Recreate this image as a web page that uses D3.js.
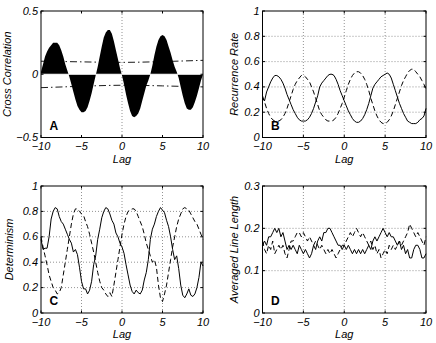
<!DOCTYPE html>
<html>
<head>
<meta charset="utf-8">
<script src="https://cdn.jsdelivr.net/npm/d3@7"></script>
<style>
  body { margin: 0; background: #fff; }
  text { font-family: "Liberation Sans", Arial, sans-serif; }
</style>
</head>
<body>
<script>
// lags run from -10 to 10 in steps of 0.25
var lags = d3.range(-10, 10.001, 0.25);
var xTicks = [-10, -5, 0, 5, 10];

// A: cross correlation
var crossCorr = [0.02,0.08,0.14,0.18,0.21,0.23,0.25,0.25,0.25,0.23,0.19,0.14,0.08,0.03,-0.02,
  -0.08,-0.14,-0.20,-0.25,-0.28,-0.30,-0.30,-0.29,-0.26,-0.21,-0.15,-0.08,-0.01,
  0.06,0.14,0.22,0.29,0.33,0.35,0.35,0.32,0.26,0.19,0.12,0.05,-0.01,
  -0.08,-0.16,-0.23,-0.29,-0.33,-0.34,-0.33,-0.31,-0.27,-0.21,-0.15,-0.09,-0.05,
  0.00,0.07,0.15,0.22,0.27,0.30,0.31,0.30,0.27,0.22,0.17,0.11,0.06,0.02,
  -0.03,-0.10,-0.17,-0.23,-0.27,-0.28,-0.28,-0.26,-0.22,-0.17,-0.11,-0.05,0.00];
var boundLags = [-10, -5, 0, 5, 10];
var upperBound = [0.103, 0.098, 0.094, 0.100, 0.110];
var lowerBound = [-0.106, -0.095, -0.087, -0.092, -0.100];

// B: recurrence rate
var rrSolid = [0.31,0.29,0.36,0.40,0.44,0.47,0.49,0.49,0.48,0.46,0.43,0.39,0.34,0.30,0.26,0.22,0.19,0.16,0.14,0.13,0.13,
  0.13,0.14,0.16,0.19,0.23,0.28,0.33,0.40,0.43,0.45,0.47,0.49,0.50,0.50,0.49,0.46,0.42,0.37,0.33,0.29,
  0.25,0.21,0.18,0.15,0.13,0.12,0.12,0.13,0.15,0.18,0.22,0.27,0.33,0.39,0.42,0.44,0.46,0.48,0.49,0.50,
  0.51,0.50,0.47,0.42,0.37,0.32,0.27,0.23,0.19,0.16,0.13,0.12,0.11,0.11,0.11,0.12,0.14,0.15,0.17,0.23];
var rrDashed = [0.33,0.28,0.23,0.19,0.16,0.14,0.13,0.13,0.13,0.14,0.16,0.19,0.23,0.28,0.33,0.38,0.42,0.45,0.47,0.49,0.49,
  0.48,0.46,0.44,0.40,0.36,0.31,0.26,0.21,0.18,0.16,0.14,0.13,0.13,0.13,0.14,0.16,0.19,0.23,0.27,0.32,
  0.37,0.42,0.46,0.49,0.51,0.52,0.52,0.51,0.49,0.46,0.42,0.37,0.31,0.26,0.21,0.17,0.14,0.12,0.11,0.11,
  0.12,0.14,0.17,0.21,0.26,0.31,0.36,0.41,0.45,0.48,0.51,0.53,0.54,0.54,0.52,0.50,0.48,0.45,0.42,0.38];

// C: determinism
var detSolid = [0.58,0.50,0.51,0.51,0.60,0.74,0.80,0.83,0.82,0.76,0.72,0.70,0.66,0.62,0.58,0.55,0.48,0.50,0.46,0.36,0.25,
  0.19,0.19,0.15,0.18,0.25,0.38,0.45,0.58,0.66,0.75,0.80,0.83,0.82,0.78,0.73,0.70,0.63,0.60,0.55,0.52,
  0.47,0.38,0.30,0.22,0.17,0.15,0.18,0.16,0.15,0.18,0.26,0.32,0.42,0.58,0.66,0.70,0.76,0.80,0.83,0.81,
  0.79,0.73,0.68,0.60,0.50,0.42,0.45,0.35,0.22,0.14,0.12,0.15,0.19,0.14,0.13,0.15,0.20,0.28,0.40,0.37];
var detDashed = [0.60,0.52,0.45,0.38,0.30,0.25,0.20,0.18,0.15,0.16,0.20,0.30,0.40,0.50,0.60,0.70,0.78,0.82,0.82,0.80,0.78,
  0.77,0.72,0.68,0.62,0.55,0.48,0.40,0.32,0.25,0.20,0.18,0.15,0.13,0.16,0.13,0.22,0.32,0.42,0.52,0.62,
  0.70,0.76,0.80,0.81,0.82,0.82,0.80,0.76,0.72,0.68,0.62,0.55,0.50,0.45,0.40,0.42,0.36,0.22,0.12,0.09,
  0.15,0.22,0.32,0.42,0.52,0.60,0.68,0.74,0.78,0.82,0.83,0.82,0.81,0.78,0.75,0.72,0.70,0.66,0.62,0.58];

// D: averaged line length
var allSolid = [0.16,0.17,0.16,0.18,0.18,0.19,0.20,0.19,0.20,0.18,0.19,0.17,0.15,0.16,0.15,0.16,0.15,0.14,0.16,0.15,0.14,
  0.15,0.14,0.13,0.14,0.16,0.15,0.17,0.18,0.17,0.19,0.19,0.20,0.20,0.19,0.18,0.17,0.16,0.16,0.15,0.16,
  0.15,0.16,0.15,0.14,0.15,0.14,0.15,0.14,0.15,0.14,0.15,0.16,0.15,0.17,0.18,0.17,0.18,0.19,0.20,0.19,
  0.18,0.19,0.18,0.18,0.17,0.16,0.17,0.15,0.16,0.14,0.15,0.13,0.13,0.15,0.16,0.16,0.15,0.13,0.13,0.14];
var allDashed = [0.17,0.15,0.14,0.16,0.15,0.17,0.14,0.15,0.16,0.15,0.16,0.14,0.13,0.15,0.17,0.17,0.18,0.19,0.19,0.18,0.19,
  0.18,0.17,0.18,0.17,0.16,0.17,0.16,0.15,0.16,0.15,0.14,0.15,0.14,0.15,0.14,0.13,0.14,0.15,0.16,0.16,
  0.17,0.18,0.19,0.18,0.19,0.20,0.19,0.18,0.19,0.18,0.17,0.16,0.17,0.15,0.16,0.14,0.15,0.13,0.14,0.15,
  0.14,0.16,0.15,0.16,0.15,0.16,0.17,0.16,0.17,0.18,0.19,0.21,0.20,0.19,0.18,0.19,0.18,0.17,0.16,0.18];

var svg = d3.select("body").append("svg")
    .attr("width", 436)
    .attr("height", 343);

function fmt(v) {
    return String(v).replace("-", "\u2212");
}

function drawPanel(p) {
    var x = d3.scaleLinear().domain([-10, 10]).range([p.left, p.right]);
    var y = d3.scaleLinear().domain(p.yDomain).range([p.bottom, p.top]);
    var g = svg.append("g");

    // grid
    if (p.grid) {
        xTicks.slice(1, -1).forEach(function(t) {
            g.append("line").attr("x1", x(t)).attr("x2", x(t))
                .attr("y1", p.top).attr("y2", p.bottom)
                .attr("stroke", "#777").attr("stroke-width", 0.8).attr("stroke-dasharray", "1,2");
        });
        p.yTicks.slice(1, -1).forEach(function(t) {
            g.append("line").attr("x1", p.left).attr("x2", p.right)
                .attr("y1", y(t)).attr("y2", y(t))
                .attr("stroke", "#777").attr("stroke-width", 0.8).attr("stroke-dasharray", "1,2");
        });
    }

    if (p.draw) p.draw(g, x, y);

    var line = d3.line().x(function(d, i) { return x(lags[i]); }).y(function(d) { return y(d); });
    (p.series || []).forEach(function(s) {
        g.append("path").datum(s.values)
            .attr("d", line)
            .attr("fill", "none")
            .attr("stroke", "#000")
            .attr("stroke-width", 1)
            .attr("stroke-dasharray", s.dash || null);
    });

    // box
    g.append("rect").attr("x", p.left).attr("y", p.top)
        .attr("width", p.right - p.left).attr("height", p.bottom - p.top)
        .attr("fill", "none").attr("stroke", "#000").attr("stroke-width", 1);

    // ticks (inside, MATLAB style)
    xTicks.forEach(function(t) {
        g.append("line").attr("x1", x(t)).attr("x2", x(t)).attr("y1", p.bottom).attr("y2", p.bottom - 2.5).attr("stroke", "#000");
        g.append("line").attr("x1", x(t)).attr("x2", x(t)).attr("y1", p.top).attr("y2", p.top + 2.5).attr("stroke", "#000");
        g.append("text").attr("x", x(t)).attr("y", p.bottom + 12.5)
            .attr("text-anchor", "middle").attr("font-size", 11).attr("font-style", "italic")
            .text(fmt(t));
    });
    p.yTicks.forEach(function(t) {
        g.append("line").attr("x1", p.left).attr("x2", p.left + 2.5).attr("y1", y(t)).attr("y2", y(t)).attr("stroke", "#000");
        g.append("line").attr("x1", p.right).attr("x2", p.right - 2.5).attr("y1", y(t)).attr("y2", y(t)).attr("stroke", "#000");
        g.append("text").attr("x", p.left - 3).attr("y", y(t) + 3.5)
            .attr("text-anchor", "end").attr("font-size", 11).attr("font-style", "italic")
            .text(fmt(t));
    });

    g.append("text").attr("x", (p.left + p.right) / 2).attr("y", p.bottom + 25)
        .attr("text-anchor", "middle").attr("font-size", 11).attr("font-style", "italic")
        .text("Lag");
    g.append("text")
        .attr("transform", "translate(" + (p.left - p.labelOffset) + "," + ((p.top + p.bottom) / 2) + ") rotate(-90)")
        .attr("text-anchor", "middle").attr("font-size", 11).attr("font-style", "italic")
        .text(p.ylabel);
    g.append("text").attr("x", p.left + 8.5).attr("y", p.bottom - 8)
        .attr("font-size", 12).attr("font-weight", "bold")
        .text(p.letter);
}

drawPanel({
    left: 41, right: 203, top: 11, bottom: 137.5,
    yDomain: [-0.5, 0.5], yTicks: [-0.5, 0, 0.5],
    ylabel: "Cross Correlation", letter: "A", labelOffset: 30, grid: false,
    draw: function(g, x, y) {
        g.append("line").attr("x1", x(0)).attr("x2", x(0)).attr("y1", 11).attr("y2", 137.5)
            .attr("stroke", "#777").attr("stroke-width", 0.8).attr("stroke-dasharray", "1,2");
        var area = d3.area()
            .x(function(d, i) { return x(lags[i]); })
            .y0(y(0))
            .y1(function(d) { return y(d); });
        g.append("path").datum(crossCorr).attr("d", area).attr("fill", "#000");
        g.append("line").attr("x1", x(-10)).attr("x2", x(10)).attr("y1", y(0)).attr("y2", y(0))
            .attr("stroke", "#fff").attr("stroke-width", 1);
        var bl = d3.line().curve(d3.curveNatural)
            .x(function(d, i) { return x(boundLags[i]); }).y(function(d) { return y(d); });
        [upperBound, lowerBound].forEach(function(b) {
            g.append("path").datum(b).attr("d", bl).attr("fill", "none")
                .attr("stroke", "#000").attr("stroke-width", 0.9).attr("stroke-dasharray", "7,3,1.5,3");
        });
    }
});

drawPanel({
    left: 262.5, right: 426, top: 11, bottom: 137.5,
    yDomain: [0, 1], yTicks: [0, 0.2, 0.4, 0.6, 0.8, 1],
    ylabel: "Recurrence Rate", letter: "B", labelOffset: 25, grid: true,
    series: [{ values: rrSolid }, { values: rrDashed, dash: "5,3" }]
});

drawPanel({
    left: 41, right: 203, top: 186, bottom: 313,
    yDomain: [0, 1], yTicks: [0, 0.2, 0.4, 0.6, 0.8, 1],
    ylabel: "Determinism", letter: "C", labelOffset: 28, grid: true,
    series: [{ values: detSolid }, { values: detDashed, dash: "5,3" }]
});

drawPanel({
    left: 262.5, right: 426, top: 186, bottom: 313,
    yDomain: [0, 0.3], yTicks: [0, 0.1, 0.2, 0.3],
    ylabel: "Averaged Line Length", letter: "D", labelOffset: 25, grid: true,
    series: [{ values: allSolid }, { values: allDashed, dash: "5,3" }]
});
</script>
</body>
</html>
